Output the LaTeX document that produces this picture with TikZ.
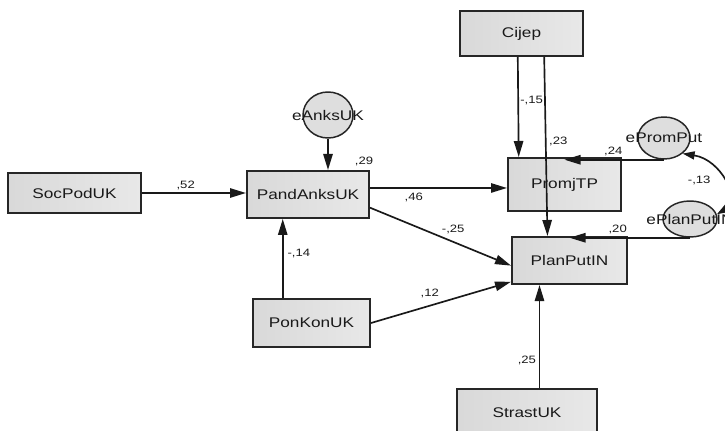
\documentclass[tikz,border=0pt]{standalone}
\usepackage{fontspec}
\setmainfont{Liberation Sans}[FakeStretch=1.23]
\usetikzlibrary{arrows.meta,shapes.geometric,calc}
\begin{document}
\begin{tikzpicture}[x=0.75pt,y=-0.75pt,
  box/.style 2 args={draw=black!85, line width=1.5pt, left color=black!15, right color=black!9,
    minimum width=#1*0.75pt, minimum height=#2*0.75pt, inner sep=0pt,
    font=\fontsize{10.5}{12}\selectfont, text=black!90},
  err/.style 2 args={ellipse, draw=black!85, line width=1.1pt, fill=black!13,
    minimum width=#1*0.75pt, minimum height=#2*0.75pt, inner sep=0pt},
  errtxt/.style={font=\fontsize{10.5}{12}\selectfont, text=black!90, inner sep=0pt},
  conn/.style={draw=black!90, line width=1.25pt, -{Triangle[length=12pt,width=7pt]}},
  dconn/.style={draw=black!90, line width=1.25pt, {Triangle[length=9pt,width=6pt]}-{Triangle[length=9pt,width=6pt]}},
  lbl/.style={font=\fontsize{8}{9}\selectfont, text=black!90, inner sep=1pt}]
\useasboundingbox (0,0) rectangle (725,431);

% observed variables
\node[box={133}{40}] (SocPodUK) at (74.5,193) {SocPodUK};
\node[box={122}{47}] (PandAnksUK) at (308,194.5) {PandAnksUK};
\node[box={123}{45}] (Cijep) at (521.5,33.5) {Cijep};
\node[box={113}{53}] (PromjTP) at (564.5,184.5) {PromjTP};
\node[box={115}{47}] (PlanPutIN) at (569.5,260.5) {PlanPutIN};
\node[box={117}{48}] (PonKonUK) at (311.5,323) {PonKonUK};
\node[box={140}{47}] (StrastUK) at (527,412.5) {StrastUK};

% error terms
\node[err={50}{46}, label={[errtxt]center:eAnksUK}] (eAnksUK) at (328,115) {};
\node[err={52}{42}, label={[errtxt]center:ePromPut}] (ePromPut) at (664,138) {};
\node[err={54}{36}, label={[errtxt]center:ePlanPutIN}] (ePlanPut) at (690,219) {};

% paths
\draw[conn] (SocPodUK.east) -- (SocPodUK.east -| PandAnksUK.west)
  node[lbl, pos=0.42, above=1pt] (l52) {,52};
\draw[conn] (PandAnksUK.6.1) -- (PandAnksUK.6.1 -| PromjTP.west)
  node[lbl, pos=0.32, below=2pt] (l46) {,46};
\draw[conn] (PandAnksUK.-12.5) -- (PlanPutIN.185.5)
  node[lbl, pos=0.59, above=4pt] (l25a) {-,25};
\draw[conn] (PonKonUK.east) -- (PlanPutIN.200.5)
  node[lbl, pos=0.42, above=4pt] (l12) {,12};
\draw[conn] (PonKonUK.139.9) -- (PonKonUK.139.9 |- PandAnksUK.south)
  node[lbl, pos=0.56, right=2pt] (l14) {-,14};
\draw[conn] (eAnksUK.south) -- (eAnksUK.south |- PandAnksUK.north);
\node[lbl] (l29) at ($(PandAnksUK.north east)+(-6,-9)$) {,29};
\draw[conn] (Cijep.261.2) -- (PromjTP.149.2)
  node[lbl, pos=0.44, right=0pt] (l15) {-,15};
\draw[conn] (Cijep.-46.3) -- (PlanPutIN.132.5)
  node[lbl, pos=0.47, right=1pt] (l23) {,23};
\draw[conn] (StrastUK.63) -- (StrastUK.63 |- PlanPutIN.south)
  node[lbl, pos=0.27, left=1pt] (l25b) {,25};
\draw[conn] (ePromPut.south) -- (ePromPut.south -| PromjTP.north)
  node[lbl, pos=0.51, above=1pt] (l24) {,24};
\draw[conn] (ePlanPut.south) -- (ePlanPut.south -| PlanPutIN.north)
  node[lbl, pos=0.6, above=1pt] (l20) {,20};
\draw[dconn] (ePromPut.-40) .. controls +(39,6) and +(24,-14) .. (ePlanPut.10)
  node[lbl, pos=0.5, left=8pt] (l13) {-,13};
\end{tikzpicture}
\end{document}
